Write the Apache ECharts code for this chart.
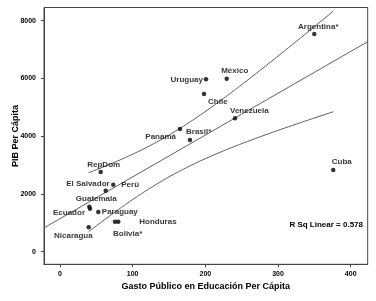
<!DOCTYPE html>
<html><head><meta charset="utf-8">
<script src="https://cdn.jsdelivr.net/npm/echarts@6/dist/echarts.min.js"></script>
<style>html,body{margin:0;padding:0;background:#fff}#c{width:376px;height:301px}</style>
</head><body><div id="c"></div>
<script>
const countries = ["Argentina*","México","Uruguay","Chile","Venezuela","Brasil*","Panamá","Cuba","RepDom","Perú","El Salvador","Guatemala","Ecuador","Paraguay","Honduras","Bolivia*","Nicaragua"];
const gasto = [349.9,229.4,200.9,198.2,240.8,178.9,165.1,376,56,73.3,62.9,40.3,41.3,52.7,80.2,75.7,39.5];
const pib = [7540,5991,5970,5461,4620,3868,4249,2829,2760,2320,2112,1558,1489,1375,1039,1039,845];
const xTicks = [0,100,200,300,400];
const yTicks = [0,2000,4000,6000,8000];
const rsqText = "R Sq Linear = 0.578";

// label placements (style only)
const place = {
  "Argentina*":["center",4,-7],"México":["center",8,-8],"Uruguay":["right",-3,0],
  "Chile":["left",4,8],"Venezuela":["left",-5,-8],"Brasil*":["left",-4,-8],
  "Panamá":["right",-4,8],"Cuba":["left",-1.5,-8],"RepDom":["center",3,-7.5],
  "Perú":["left",8,0],"El Salvador":["right",4,-7],"Guatemala":["center",7,-7.5],
  "Ecuador":["right",-5,4.3],"Paraguay":["left",3.5,0],"Honduras":["left",21,0],
  "Bolivia*":["left",-2,11.6],"Nicaragua":["right",4,8.7]
};

// OLS fit and 95% mean confidence band computed from data
const n = gasto.length;
const mx = gasto.reduce((a,b)=>a+b,0)/n, my = pib.reduce((a,b)=>a+b,0)/n;
let sxx=0,sxy=0;
for(let i=0;i<n;i++){sxx+=(gasto[i]-mx)**2;sxy+=(gasto[i]-mx)*(pib[i]-my);}
const b1=sxy/sxx, b0=my-b1*mx;
let sse=0; for(let i=0;i<n;i++){sse+=(pib[i]-b0-b1*gasto[i])**2;}
const s=Math.sqrt(sse/(n-2)), tcrit=2.131;
const xmin=Math.min(...gasto), xmax=Math.max(...gasto);
const up=[],lo=[];
for(let k=0;k<=60;k++){const x=xmin+(xmax-xmin)*k/60;const f=b0+b1*x;const h=tcrit*s*Math.sqrt(1/n+(x-mx)**2/sxx);up.push([x,f+h]);lo.push([x,f-h]);}
const XMIN=-22, XMAX=423.4, YMIN=-436, YMAX=8457;
const fit=[[XMIN,b0+b1*XMIN],[XMAX,b0+b1*XMAX]];

const font="Liberation Sans";
const chart=echarts.init(document.getElementById('c'),null,{renderer:'canvas'});
const lineStyle={color:'#606060',width:1};
chart.setOption({
  animation:false,
  backgroundColor:'#fff',
  grid:{left:44,right:8.3,top:7.5,bottom:36.7,outerBoundsMode:'none',containLabel:false,show:true,borderColor:'#444',borderWidth:1,backgroundColor:'#fff'},
  xAxis:{type:'value',min:XMIN,max:XMAX,splitLine:{show:false},
    axisLine:{show:true,onZero:false,lineStyle:{color:'#444'}},
    axisTick:{show:true,length:3,customValues:xTicks,lineStyle:{color:'#444'}},
    axisLabel:{customValues:xTicks,formatter:v=>String(v),margin:6,color:'#000',fontFamily:font,fontWeight:'bold',fontSize:7},
    name:'Gasto Público en Educación Per Cápita',nameLocation:'middle',nameGap:18,nameMoveOverlap:false,
    nameTextStyle:{color:'#000',fontFamily:font,fontWeight:'bold',fontSize:9}},
  yAxis:{type:'value',min:YMIN,max:YMAX,splitLine:{show:false},
    axisLine:{show:true,onZero:false,lineStyle:{color:'#444'}},
    axisTick:{show:true,length:3,customValues:yTicks,lineStyle:{color:'#444'}},
    axisLabel:{customValues:yTicks,formatter:v=>String(v),margin:8,color:'#000',fontFamily:font,fontWeight:'bold',fontSize:7},
    name:'PIB Per Cápita',nameLocation:'middle',nameGap:24,nameMoveOverlap:false,
    nameTextStyle:{color:'#000',fontFamily:font,fontWeight:'bold',fontSize:9}},
  graphic:[{type:'text',right:13,top:221,style:{text:rsqText,fill:'#000',font:'bold 8px "Liberation Sans"'}}],
  series:[
    {type:'line',data:fit,symbol:'none',lineStyle,silent:true},
    {type:'line',data:up,symbol:'none',smooth:false,lineStyle,silent:true},
    {type:'line',data:lo,symbol:'none',smooth:false,lineStyle,silent:true},
    {type:'scatter',symbolSize:4.5,itemStyle:{color:'#000'},z:5,
     data:countries.map((c,i)=>{const p=place[c];return {name:c,value:[gasto[i],pib[i]],
       label:{show:true,position:'inside',formatter:c,align:p[0],verticalAlign:'middle',offset:[p[1],p[2]],
         color:'#000',fontFamily:font,fontWeight:'bold',fontSize:8}};})}
  ]
});
</script></body></html>
